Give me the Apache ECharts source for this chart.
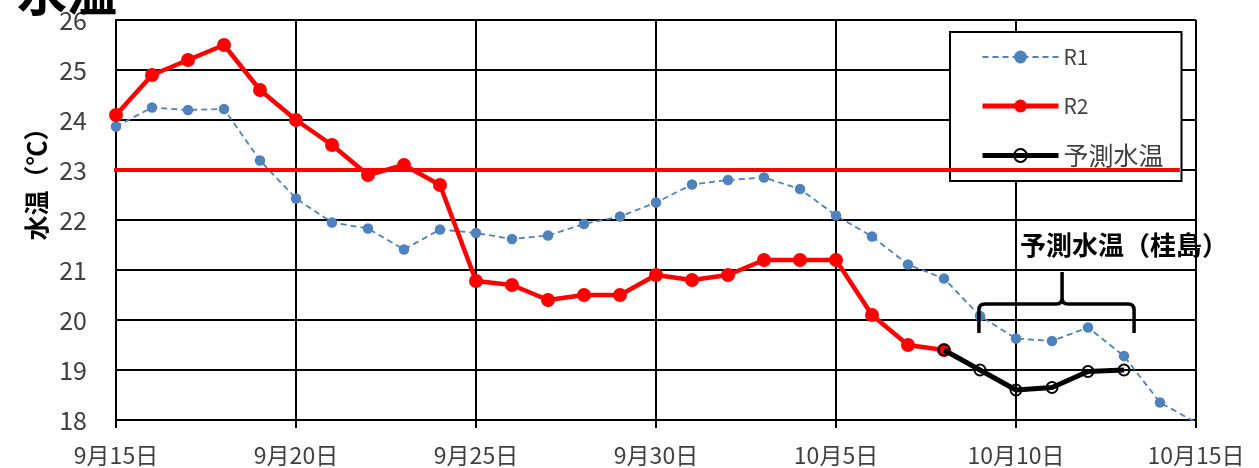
<!DOCTYPE html>
<html><head><meta charset="utf-8">
<script src="https://cdn.jsdelivr.net/npm/echarts@6/dist/echarts.min.js"></script>
<style>html,body{margin:0;padding:0;background:#fff}#c{width:1259px;height:468px}</style>
</head><body><div id="c"></div>
<script>
// Days counted from 9/15 (0) to 10/15 (30)
const xTickLabels = ['9月15日','9月20日','9月25日','9月30日','10月5日','10月10日','10月15日'];
const r1Days = [0,1,2,3,4,5,6,7,8,9,10,11,12,13,14,15,16,17,18,19,20,21,22,23,24,25,26,27,28,29,30];
const r1Values = [23.87,24.25,24.2,24.22,23.19,22.43,21.95,21.83,21.41,21.81,21.74,21.62,21.69,21.92,22.07,22.35,22.71,22.8,22.85,22.62,22.09,21.67,21.11,20.83,20.08,19.63,19.58,19.85,19.28,18.35,17.95];
const r2Days = [0,1,2,3,4,5,6,7,8,9,10,11,12,13,14,15,16,17,18,19,20,21,22,23];
const r2Values = [24.1,24.9,25.2,25.5,24.6,24.0,23.5,22.9,23.1,22.7,20.78,20.7,20.4,20.5,20.5,20.9,20.8,20.9,21.2,21.2,21.2,20.1,19.5,19.4];
const predDays = [23,24,25,26,27,28];
const predValues = [19.4,19.0,18.6,18.65,18.97,19.0];
const thresholdDays = [-0.1,29.55];
const thresholdValues = [23,23];
const seriesNames = ['R1','R2','予測水温'];
const annotationText = '予測水温（桂島）';

const zip = (a,b) => a.map((d,i)=>[d,b[i]]);
const font = '"Noto Sans CJK JP", "Noto Sans", sans-serif';

const chart = echarts.init(document.getElementById('c'));
chart.setOption({
  animation:false,
  backgroundColor:'#fff',
  title:{text:'水温', left:12, top:-38, textStyle:{fontSize:50, fontWeight:'bold', color:'#000', fontFamily:font}},
  grid:{left:116, right:63, top:20, bottom:48},
  legend:{
    data:[
      {name:seriesNames[0], lineStyle:{width:2}},
      {name:seriesNames[1], lineStyle:{width:5}},
      {name:seriesNames[2], lineStyle:{width:5}}
    ],
    orient:'vertical', left:950, top:32,
    padding:[13,18,13,30], itemWidth:76, itemHeight:16, itemGap:25,
    backgroundColor:'#fff', borderColor:'#000', borderWidth:2,
    formatter:n=> /^[A-Za-z0-9]+$/.test(n) ? '{a|'+n+'}' : '{b|'+n+'}',
    textStyle:{fontSize:21, color:'#404040', fontFamily:font, lineHeight:24,
      rich:{a:{fontSize:21, lineHeight:24, color:'#404040', fontFamily:font},
            b:{fontSize:25, lineHeight:24, color:'#404040', fontFamily:font}}},
    z:4
  },
  xAxis:{
    type:'value', min:0, max:30, interval:5,
    axisLine:{lineStyle:{color:'#000', width:2}},
    axisTick:{show:true, length:8, lineStyle:{color:'#000', width:2}},
    axisLabel:{margin:24, fontSize:23, color:'#404040', fontFamily:font,
      formatter:v=>xTickLabels[Math.round(v/5)]},
    splitLine:{show:true, lineStyle:{color:'#000', width:2}}
  },
  yAxis:{
    type:'value', min:18, max:26, interval:1,
    axisLine:{show:true, lineStyle:{color:'#000', width:2}},
    axisTick:{show:false},
    axisLabel:{margin:29, fontSize:25, color:'#404040', fontFamily:font},
    splitLine:{show:true, lineStyle:{color:'#000', width:2}}
  },
  graphic:[{
    type:'text', x:36, y:178, rotation:Math.PI/2,
    style:{text:'水温（℃）', fill:'#000', font:'bold 25px '+font, align:'center', verticalAlign:'middle'}
  }],
  series:[
    {name:seriesNames[0], type:'line', data:zip(r1Days,r1Values), z:3,
     symbol:'circle', symbolSize:10.5, itemStyle:{color:'#4f81bd'},
     lineStyle:{color:'#4f81bd', width:1.8, type:[6,4]}},
    {name:seriesNames[1], type:'line', data:zip(r2Days,r2Values), z:4,
     symbol:'circle', symbolSize:14, itemStyle:{color:'#ff0000'},
     lineStyle:{color:'#ff0000', width:4.5}},
    {name:seriesNames[2], type:'line', data:zip(predDays,predValues), z:5,
     symbol:'circle', symbolSize:11,
     itemStyle:{color:'rgba(0,0,0,0)', borderColor:'#000', borderWidth:2},
     lineStyle:{color:'#000', width:5}},
    {name:'threshold', type:'line', data:zip(thresholdDays,thresholdValues), z:10, zlevel:1,
     symbol:'none', clip:false, lineStyle:{color:'#ff0000', width:4}, silent:true},
    {name:'annotation', type:'custom', data:[[0]], clip:false, z:6, silent:true,
     renderItem:(params, api)=>{
       const L = api.coord([23.97, 20.32]), P = api.coord([26.28, 20.96]), R = api.coord([28.28, 20.32]);
       const yb = api.coord([0, 19.74])[1];
       const yh = L[1], r = 6;
       const path = `M${L[0]},${yb} L${L[0]},${yh+r} Q${L[0]},${yh} ${L[0]+r},${yh} L${P[0]-r},${yh} Q${P[0]},${yh} ${P[0]},${yh-r} L${P[0]},${P[1]} M${P[0]},${yh-r} Q${P[0]},${yh} ${P[0]+r},${yh} L${R[0]-r},${yh} Q${R[0]},${yh} ${R[0]},${yh+r} L${R[0]},${yb}`;
       const T = api.coord([28.0, 21.5]);
       return {type:'group', children:[
         {type:'path', shape:{pathData:path}, style:{fill:null, stroke:'#000', lineWidth:3.5}},
         {type:'text', x:T[0], y:T[1], style:{text:annotationText, font:'bold 26px '+font, fill:'#000', align:'center', verticalAlign:'middle'}}
       ]};
     }}
  ]
});
</script></body></html>
